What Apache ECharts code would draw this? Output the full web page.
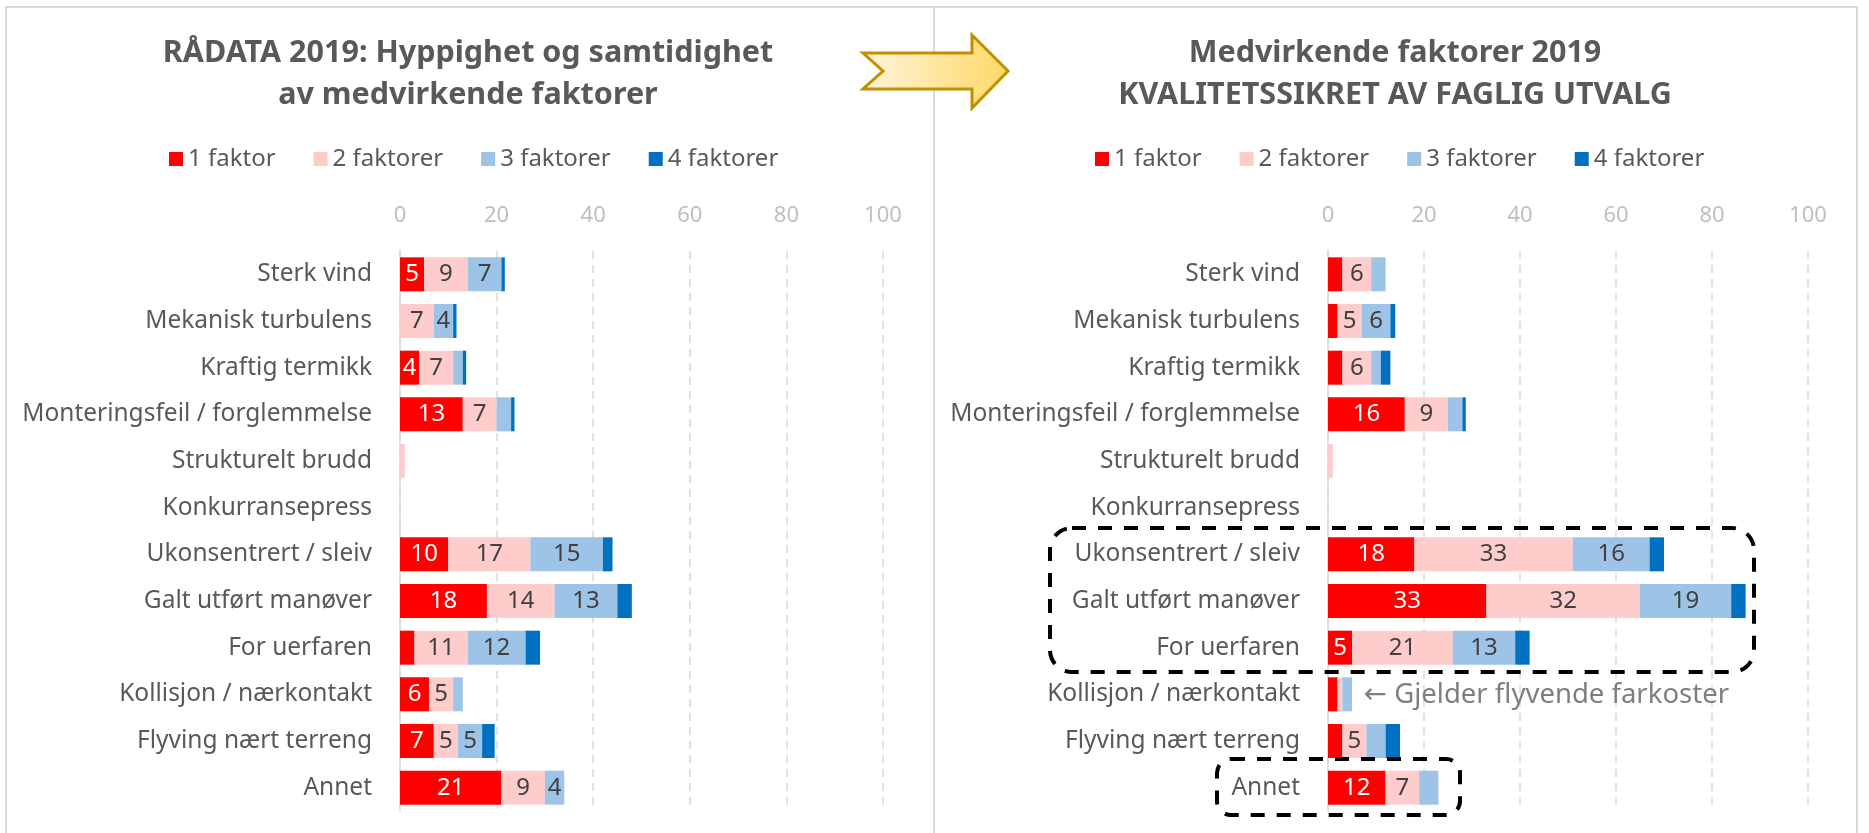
<!DOCTYPE html>
<html>
<head>
<meta charset="utf-8">
<script src="https://cdn.jsdelivr.net/npm/echarts@6/dist/echarts.min.js"></script>
<style>
  html, body { margin: 0; padding: 0; background: #fff; }
  #chart { width: 1869px; height: 833px; }
</style>
</head>
<body>
<div id="chart"></div>
<script>
const categories = [
  'Sterk vind', 'Mekanisk turbulens', 'Kraftig termikk', 'Monteringsfeil / forglemmelse',
  'Strukturelt brudd', 'Konkurransepress', 'Ukonsentrert / sleiv', 'Galt utført manøver',
  'For uerfaren', 'Kollisjon / nærkontakt', 'Flyving nært terreng', 'Annet'
]
const seriesNames = ['1 faktor', '2 faktorer', '3 faktorer', '4 faktorer']
const xTicks = [0, 20, 40, 60, 80, 100]

// RÅDATA 2019
const raw1 = [5, 0, 4, 13, 0, 0, 10, 18, 3, 6, 7, 21]
const raw2 = [9, 7, 7, 7, 1, 0, 17, 14, 11, 5, 5, 9]
const raw3 = [7, 4, 2, 3, 0, 0, 15, 13, 12, 2, 5, 4]
const raw4 = [0.7, 0.7, 0.7, 0.7, 0, 0, 2, 3, 3, 0, 2.6, 0]

// Kvalitetssikret av faglig utvalg
const qa1 = [3, 2, 3, 16, 0, 0, 18, 33, 5, 2, 3, 12]
const qa2 = [6, 5, 6, 9, 1, 0, 33, 32, 21, 1, 5, 7]
const qa3 = [3, 6, 2, 3, 0, 0, 16, 19, 13, 2, 4, 4]
const qa4 = [0, 1, 2, 0.7, 0, 0, 3, 3, 3, 0, 3, 0]

const colors = ['#ff0000', '#ffcccc', '#9dc3e6', '#0070c0']
const font = '"Noto Sans", "DejaVu Sans", sans-serif'
const textGray = '#595959'

const chart = echarts.init(document.getElementById('chart'))

const makeSeries = (data, idx, panel, minLabel) => ({
  name: seriesNames[idx],
  type: 'bar',
  stack: 'p' + panel,
  xAxisIndex: panel,
  yAxisIndex: panel,
  barWidth: 34,
  itemStyle: { color: colors[idx] },
  label: {
    show: true,
    position: 'inside',
    fontFamily: font,
    fontSize: 24,
    color: idx === 0 ? '#ffffff' : '#404040',
    formatter: p => (p.value >= minLabel ? Math.round(p.value) : '')
  },
  data: data
})

const xAxisBase = (grid) => ({
  type: 'value',
  gridIndex: grid,
  position: 'top',
  min: xTicks[0],
  max: xTicks[xTicks.length - 1],
  interval: xTicks[1] - xTicks[0],
  axisLine: { show: false },
  axisTick: { show: false },
  axisLabel: { color: '#bfbfbf', fontFamily: font, fontSize: 22, margin: 24 },
  splitLine: { show: true, lineStyle: { color: '#d9d9d9', type: [8, 6], width: 1.5 } }
})

const yAxisBase = (grid) => ({
  type: 'category',
  gridIndex: grid,
  inverse: true,
  data: categories,
  axisLine: { show: true, lineStyle: { color: '#d9d9d9', width: 1.5 } },
  axisTick: { show: false },
  axisLabel: { color: textGray, fontFamily: font, fontSize: 24.5, margin: 28 }
})

const legendBase = (left) => ({
  left: left,
  top: 142,
  icon: 'rect',
  itemWidth: 14,
  itemHeight: 14,
  itemGap: 38,
  textStyle: { color: textGray, fontFamily: font, fontSize: 24 },
  data: seriesNames
})

const titleText = (x, lines) => ({
  type: 'text',
  x: x,
  y: 32,
  style: {
    text: lines.join('\n'),
    textAlign: 'center',
    textVerticalAlign: 'top',
    lineHeight: 42,
    fontFamily: font,
    fontWeight: 'bold',
    fontSize: 30.5,
    fill: textGray
  }
})

chart.setOption({
  animation: false,
  backgroundColor: '#ffffff',
  legend: [legendBase(164), legendBase(1090)],
  grid: [
    { left: 400, width: 483, top: 251, height: 560 },
    { left: 1328, width: 480, top: 251, height: 560 }
  ],
  xAxis: [xAxisBase(0), xAxisBase(1)],
  yAxis: [yAxisBase(0), yAxisBase(1)],
  series: [
    makeSeries(raw1, 0, 0, 4), makeSeries(raw2, 1, 0, 4), makeSeries(raw3, 2, 0, 4), makeSeries(raw4, 3, 0, 4),
    makeSeries(qa1, 0, 1, 5), makeSeries(qa2, 1, 1, 5), makeSeries(qa3, 2, 1, 5), makeSeries(qa4, 3, 1, 5)
  ],
  graphic: [
    // panel frames
    { type: 'rect', shape: { x: 6, y: 7, width: 1851, height: 850 }, style: { fill: 'none', stroke: '#d9d9d9', lineWidth: 2 }, z: -10 },
    { type: 'line', shape: { x1: 934, y1: 7, x2: 934, y2: 833 }, style: { stroke: '#d9d9d9', lineWidth: 2 }, z: -10 },
    titleText(468, ['RÅDATA 2019: Hyppighet og samtidighet', 'av medvirkende faktorer']),
    titleText(1395, ['Medvirkende faktorer 2019', 'KVALITETSSIKRET AV FAGLIG UTVALG']),
    // arrow between the panels
    {
      type: 'polygon',
      shape: { points: [[863, 53], [972, 53], [972, 35], [1008, 71], [972, 108], [972, 89], [863, 89], [883, 71]] },
      style: {
        fill: new echarts.graphic.LinearGradient(0, 0, 1, 0, [
          { offset: 0, color: '#fff4dc' },
          { offset: 1, color: '#ffd866' }
        ]),
        stroke: '#bf9000',
        lineWidth: 3,
        lineJoin: 'miter'
      },
      z: 10
    },
    // dashed highlight boxes
    { type: 'rect', shape: { x: 1050, y: 528, width: 704, height: 144, r: 22 }, style: { fill: 'none', stroke: '#000', lineWidth: 4, lineDash: [14, 12] }, z: 10 },
    { type: 'rect', shape: { x: 1217, y: 759, width: 243, height: 56, r: 14 }, style: { fill: 'none', stroke: '#000', lineWidth: 4, lineDash: [14, 12] }, z: 10 },
    {
      type: 'text',
      x: 1364,
      y: 695,
      style: {
        text: '← Gjelder flyvende farkoster',
        textVerticalAlign: 'middle',
        fontFamily: font,
        fontSize: 27.5,
        fill: '#7f7f7f'
      },
      z: 10
    }
  ]
})
</script>
</body>
</html>
